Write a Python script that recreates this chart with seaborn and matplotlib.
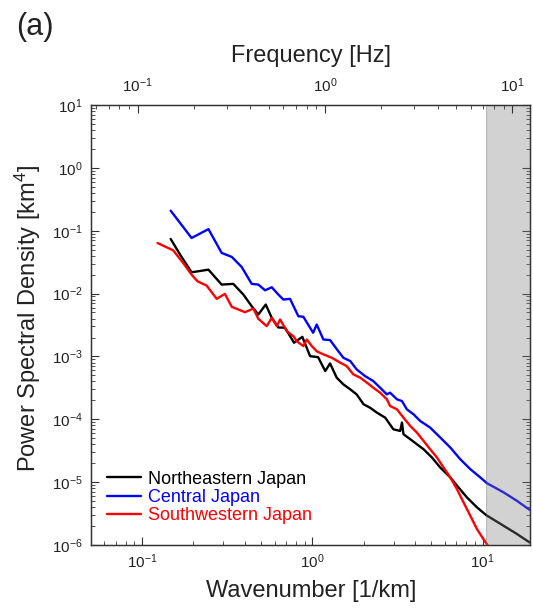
import numpy as np
import pandas as pd
import matplotlib
matplotlib.use("Agg")
import matplotlib.pyplot as plt
import seaborn as sns
from matplotlib.ticker import LogLocator, NullFormatter
from matplotlib.lines import Line2D

# ---------------- data ----------------
regions = ["Northeastern Japan", "Central Japan", "Southwestern Japan"]
colors = ["#000000", "#0000ff", "#ff0000"]

ne_k = [0.147, 0.167, 0.195, 0.245, 0.293, 0.343, 0.393, 0.440, 0.481, 0.532,
        0.577, 0.631, 0.691, 0.780, 0.873, 0.969, 1.08, 1.19, 1.27, 1.39,
        1.52, 1.67, 1.82, 2.00, 2.18, 2.39, 2.68, 2.99, 3.28, 3.36,
        3.43, 3.76, 4.11, 4.50, 5.04, 5.64, 6.46, 7.22, 8.09, 9.27,
        10.5, 13.3, 15.9, 18.9]
ne_psd = [0.0738, 0.0416, 0.0218, 0.024, 0.0139, 0.01426, 0.00964, 0.00629, 0.00464, 0.00669,
          0.00411, 0.00289, 0.00286, 0.00165, 0.00205, 0.00101, 0.000975, 0.000585, 0.000774, 0.000459,
          0.000360, 0.000299, 0.000249, 0.000173, 0.000153, 0.000128, 0.000106, 6.94e-5, 6.52e-5, 8.87e-5,
          5.78e-5, 4.82e-5, 4.01e-5, 3.34e-5, 2.47e-5, 1.71e-5, 1.19e-5, 8.24e-6, 5.72e-6, 3.97e-6,
          2.99e-6, 2.02e-6, 1.50e-6, 1.10e-6]

c_k = [0.147, 0.195, 0.245, 0.293, 0.336, 0.384, 0.440, 0.481, 0.527, 0.577,
       0.631, 0.675, 0.739, 0.827, 0.885, 1.01, 1.06, 1.16, 1.27, 1.42,
       1.52, 1.67, 1.82, 2.04, 2.28, 2.50, 2.74, 2.86, 3.14, 3.36,
       3.59, 3.93, 4.30, 4.92, 5.64, 6.46, 7.39, 8.47, 9.69, 10.6,
       13.3, 15.9, 18.9]
c_psd = [0.208, 0.0766, 0.106, 0.0443, 0.0383, 0.0265, 0.01426, 0.0139, 0.01128, 0.0126,
         0.00964, 0.00803, 0.00824, 0.00436, 0.00427, 0.00238, 0.00322, 0.00186, 0.00182, 0.00121,
         0.000953, 0.000842, 0.000622, 0.000487, 0.000405, 0.000318, 0.000249, 0.000265, 0.000208, 0.000195,
         0.000144, 0.000120, 9.4e-5, 7.38e-5, 5.13e-5, 3.56e-5, 2.32e-5, 1.61e-5, 1.19e-5, 9.64e-6,
         6.87e-6, 5.05e-6, 3.63e-6]

sw_k = [0.123, 0.152, 0.174, 0.195, 0.211, 0.239, 0.274, 0.306, 0.336, 0.402,
        0.450, 0.481, 0.539, 0.577, 0.618, 0.646, 0.707, 0.773, 0.809, 0.885,
        0.927, 0.992, 1.06, 1.16, 1.30, 1.46, 1.59, 1.74, 1.91, 2.09,
        2.28, 2.50, 2.74, 2.86, 3.14, 3.43, 3.76, 4.11, 4.50, 4.92,
        5.39, 5.90, 6.46, 7.07, 7.73, 8.47, 9.27, 10.1, 11.1]
sw_psd = [0.0638, 0.0487, 0.0307, 0.0200, 0.0157, 0.0134, 0.00824, 0.00989, 0.00615, 0.00505,
          0.00578, 0.00397, 0.00303, 0.00411, 0.00303, 0.00387, 0.00252, 0.00210, 0.00175, 0.00146,
          0.00186, 0.00146, 0.00121, 0.00108, 0.000953, 0.000794, 0.000702, 0.000518, 0.000459, 0.000383,
          0.000318, 0.000265, 0.000208, 0.000163, 0.000144, 0.000106, 7.83e-5, 6.15e-5, 4.53e-5, 3.34e-5,
          2.47e-5, 1.71e-5, 1.19e-5, 7.74e-6, 4.76e-6, 2.92e-6, 1.79e-6, 1.25e-6, 8.64e-7]

shade_start = 10.5          # start of grey band (1/km)
k_limits = (0.05, 19.0)     # bottom axis range
f_limits = (0.0564, 12.4)   # top axis range
psd_limits = (1e-6, 1e1)

df = pd.concat([
    pd.DataFrame({"k": ne_k, "psd": ne_psd, "region": regions[0]}),
    pd.DataFrame({"k": c_k, "psd": c_psd, "region": regions[1]}),
    pd.DataFrame({"k": sw_k, "psd": sw_psd, "region": regions[2]}),
], ignore_index=True)

# ---------------- style ----------------
sns.set_style("ticks")
plt.rcParams["font.family"] = ["Liberation Sans", "DejaVu Sans"]
plt.rcParams["mathtext.default"] = "regular"
plt.rcParams["axes.unicode_minus"] = True
txt = "#222222"

fig = plt.figure(figsize=(5.33, 6.11), dpi=100)
ax = fig.add_axes([91 / 533, 1 - 545 / 611, 439 / 533, 440 / 611])

sns.lineplot(data=df, x="k", y="psd", hue="region", hue_order=regions,
             palette=dict(zip(regions, colors)), sort=False, estimator=None,
             linewidth=1.7, legend=False, ax=ax)

ax.set_xscale("log")
ax.set_yscale("log")
ax.set_xlim(*k_limits)
ax.set_ylim(*psd_limits)

ax.axvspan(shade_start, k_limits[1], facecolor="#808080", alpha=0.35,
           edgecolor="#666666", linewidth=0.8, zorder=3)

for s in ax.spines.values():
    s.set_color("#333333")
    s.set_linewidth(1.0)

ax.xaxis.set_major_locator(LogLocator(base=10, numticks=20))
ax.xaxis.set_minor_locator(LogLocator(base=10, subs=np.arange(2, 10), numticks=50))
ax.yaxis.set_major_locator(LogLocator(base=10, numticks=20))
ax.yaxis.set_minor_locator(LogLocator(base=10, subs=np.arange(2, 10), numticks=50))
ax.xaxis.set_minor_formatter(NullFormatter())
ax.yaxis.set_minor_formatter(NullFormatter())

ax.tick_params(axis="both", which="both", direction="in", colors="#333333",
               labelcolor=txt, labelsize=11)
ax.tick_params(axis="x", which="both", top=False, bottom=True, pad=5)
ax.tick_params(axis="y", which="both", left=True, right=True, pad=6)
ax.tick_params(which="major", length=6, width=0.8)
ax.tick_params(which="minor", length=3, width=0.6)
ax.set_xlabel("")
ax.set_ylabel("")
ax.xaxis.label.set_visible(False)
ax.yaxis.label.set_visible(False)

ax2 = ax.twiny()
ax2.set_xscale("log")
ax2.set_xlim(*f_limits)
ax2.xaxis.set_major_locator(LogLocator(base=10, numticks=20))
ax2.xaxis.set_minor_locator(LogLocator(base=10, subs=np.arange(2, 10), numticks=50))
ax2.xaxis.set_minor_formatter(NullFormatter())
ax2.tick_params(axis="x", which="both", direction="in", top=True, bottom=False,
                colors="#333333", labelcolor=txt, labelsize=11, pad=7)
ax2.tick_params(which="major", length=6, width=0.8)
ax2.tick_params(which="minor", length=3, width=0.6)
ax2.xaxis.label.set_visible(False)
for s in ax2.spines.values():
    s.set_color("#333333")

handles = [Line2D([], [], color=c, lw=1.7) for c in colors]
leg = ax.legend(handles, regions, loc="lower left", bbox_to_anchor=(0.012, 0.022),
                frameon=False, fontsize=13, handlelength=1.9, handletextpad=0.35,
                labelspacing=0.08, borderaxespad=0.2, labelcolor="linecolor")

fig.text(16 / 533, 1 - 27 / 611, "(a)", fontsize=22, color=txt, va="center", ha="left")
fig.text(311 / 533, 1 - 56 / 611, "Frequency [Hz]", fontsize=17, color=txt,
         va="center", ha="center")
fig.text(311 / 533, 1 - 591 / 611, "Wavenumber [1/km]", fontsize=17, color=txt,
         va="center", ha="center")
fig.text(28 / 533, 1 - 318 / 611, "Power Spectral Density [km$^4$]", fontsize=17,
         color=txt, va="center", ha="center", rotation=90)

fig.savefig("out.png", dpi=100)
